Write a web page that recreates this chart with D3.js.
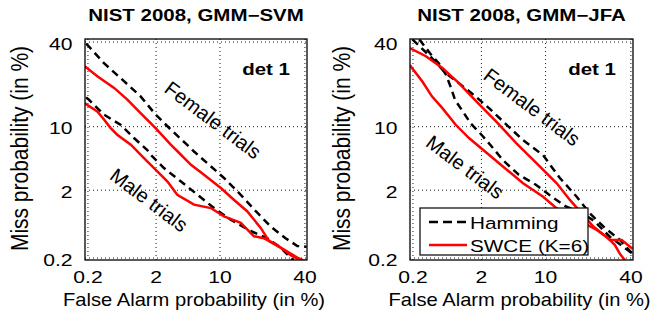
<!DOCTYPE html>
<html>
<head>
<meta charset="utf-8">
<script src="https://cdn.jsdelivr.net/npm/d3@7"></script>
<style>
body { margin: 0; background: #fff; }
svg text { font-family: "Liberation Sans", Arial, Helvetica, sans-serif; fill: #000; }
</style>
</head>
<body>
<svg id="chart" width="663" height="311"></svg>
<script>
// DET points, [false alarm %, miss %]
var svmFemaleHamming = [[0.19, 39], [0.21, 37.8], [0.37, 30.3], [0.66, 24.3], [1.27, 17.9], [2.0, 12.7], [3.07, 9.3], [4.7, 6.6], [5.6, 5.6], [7.6, 4.2], [11, 2.8], [15.3, 1.72], [20, 1.03], [25.4, 0.62], [31.5, 0.41], [36.7, 0.31], [41, 0.3]];
var svmFemaleSwce = [[0.18, 29], [0.29, 25], [0.53, 20.7], [0.83, 16.9], [1.27, 13.1], [2.0, 9.6], [3.07, 6.6], [3.7, 5.6], [5.2, 4.0], [7.1, 3.06], [10.3, 2.1], [13.4, 1.48], [17.2, 1.03], [21.7, 0.59], [24.8, 0.37], [30.8, 0.27], [36.7, 0.2], [39.5, 0.18]];
var svmMaleHamming = [[0.19, 17.5], [0.21, 16.9], [0.37, 12.7], [0.66, 10.3], [1.03, 7.7], [1.56, 5.8], [1.73, 5.17], [2.54, 3.67], [4.0, 2.55], [6.1, 1.72], [8.9, 1.14], [12.6, 0.78], [18.3, 0.53], [24.1, 0.41], [29.4, 0.29], [33.7, 0.2], [35, 0.18]];
var svmMaleSwce = [[0.18, 15.8], [0.29, 13.5], [0.37, 11.5], [0.47, 9.6], [0.59, 8.3], [0.93, 6.6], [1.41, 4.76], [2.1, 3.36], [2.79, 2.55], [3.66, 1.72], [5.6, 1.27], [8.3, 1.14], [11, 0.87], [15.3, 0.70], [19.4, 0.44], [22.9, 0.41], [28, 0.32], [33.7, 0.22], [38, 0.18]];

var jfaFemaleHamming = [[0.2, 41], [0.41, 32.5], [0.66, 26.2], [1.02, 22.4], [1.63, 18.3], [2.52, 14.4], [3.95, 10.5], [6.1, 7.35], [9.6, 5.1], [13.5, 2.8], [18.4, 1.62], [22.9, 0.96], [28.1, 0.62], [35.2, 0.385], [41, 0.23]];
var jfaMaleHamming = [[0.26, 41], [0.38, 34.7], [0.52, 30.3], [0.67, 25.5], [0.79, 20.7], [0.90, 16.8], [1.12, 13.9], [1.49, 10.5], [2.06, 8.2], [2.64, 6.5], [3.69, 4.5], [5.5, 3.06], [8.2, 2.31], [10.9, 1.72], [15.1, 1.2], [19.5, 1.0], [24.5, 0.75], [30.9, 0.43], [36.7, 0.30], [41, 0.23]];
var jfaFemaleSwce = [[0.18, 37], [0.33, 33.3], [0.59, 28.3], [1.02, 22.4], [1.77, 16.2], [3.12, 10.9], [5.2, 6.8], [8.35, 4.16], [12.7, 2.41], [16.3, 1.47], [24.2, 0.62], [30.9, 0.385], [36, 0.385], [41, 0.28]];
var jfaMaleSwce = [[0.18, 29.5], [0.29, 23], [0.41, 17.9], [0.59, 14.4], [0.92, 10.3], [1.4, 7.7], [2.14, 5.8], [3.71, 3.8], [6.1, 2.41], [9.6, 1.62], [12.7, 1.13], [25.5, 0.55], [29.5, 0.43], [33, 0.32], [35.2, 0.23], [37.5, 0.18]];

var tickValues = [0.2, 2, 10, 40];
var axisLimits = [0.182, 41.2];
var titles = ["NIST 2008, GMM\u2212SVM", "NIST 2008, GMM\u2212JFA"];
var seriesNames = ["Hamming", "SWCE (K=6)"];
var trialLabels = ["Female trials", "Male trials"];

var stretch = 1.28;
var plotTop = 39, plotBottom = 260;

// inverse normal CDF (Acklam)
function probit(p) {
    var a = [-3.969683028665376e+01, 2.209460984245205e+02, -2.759285104469687e+02, 1.383577518672690e+02, -3.066479806614716e+01, 2.506628277459239e+00],
        b = [-5.447609879822406e+01, 1.615858368580409e+02, -1.556989798598866e+02, 6.680131188771972e+01, -1.328068155288572e+01],
        c = [-7.784894002430293e-03, -3.223964580411365e-01, -2.400758277161838e+00, -2.549671010259964e+00, 4.374664141464968e+00, 2.938163982698783e+00],
        d = [7.784695709041462e-03, 3.224671290700398e-01, 2.445134137142996e+00, 3.754408661907416e+00];
    var q, r;
    if (p < 0.02425) {
        q = Math.sqrt(-2 * Math.log(p));
        return (((((c[0] * q + c[1]) * q + c[2]) * q + c[3]) * q + c[4]) * q + c[5]) /
            ((((d[0] * q + d[1]) * q + d[2]) * q + d[3]) * q + 1);
    }
    if (p > 1 - 0.02425) {
        return -probit(1 - p);
    }
    q = p - 0.5;
    r = q * q;
    return (((((a[0] * r + a[1]) * r + a[2]) * r + a[3]) * r + a[4]) * r + a[5]) * q /
        (((((b[0] * r + b[1]) * r + b[2]) * r + b[3]) * r + b[4]) * r + 1);
}
function pz(pct) { return probit(pct / 100); }

var svg = d3.select("#chart");

var panels = [
    {left: 85, right: 307, title: titles[0], ylab: 20,
        curves: [svmFemaleHamming, svmMaleHamming, svmFemaleSwce, svmMaleSwce],
        female: [213, 120], male: [149, 200], legend: false},
    {left: 410, right: 633, title: titles[1], ylab: 342,
        curves: [jfaFemaleHamming, jfaMaleHamming, jfaFemaleSwce, jfaMaleSwce],
        female: [532, 107], male: [465, 167], legend: true}
];

panels.forEach(function(p) {
    var x = d3.scaleLinear().domain(axisLimits.map(pz)).range([p.left, p.right]);
    var y = d3.scaleLinear().domain(axisLimits.map(pz)).range([plotBottom, plotTop]);
    var w = p.right - p.left, h = plotBottom - plotTop;
    var g = svg.append("g");

    // dotted grid
    g.append("g")
        .attr("transform", "translate(0," + plotBottom + ")")
        .call(d3.axisBottom(x).tickValues(tickValues.map(pz)).tickSize(-h).tickFormat(""))
        .call(function(s) { s.select(".domain").remove(); });
    g.append("g")
        .attr("transform", "translate(" + p.left + ",0)")
        .call(d3.axisLeft(y).tickValues(tickValues.map(pz)).tickSize(-w).tickFormat(""))
        .call(function(s) { s.select(".domain").remove(); });
    g.selectAll(".tick line")
        .attr("stroke", "#000")
        .attr("stroke-width", 0.9)
        .attr("stroke-dasharray", "1,3");

    // tick labels
    var xa = g.append("g")
        .attr("transform", "translate(0," + plotBottom + ")")
        .call(d3.axisBottom(x).tickValues(tickValues.map(pz)).tickSize(0).tickPadding(0)
            .tickFormat(function(d, i) { return tickValues[i]; }));
    xa.select(".domain").remove();
    xa.selectAll("text")
        .attr("y", 23).attr("dy", null)
        .attr("font-size", 16.5)
        .attr("transform", "scale(" + stretch + ",1)");

    var ya = g.append("g")
        .attr("transform", "translate(" + p.left + ",0)")
        .call(d3.axisLeft(y).tickValues(tickValues.map(pz)).tickSize(0).tickPadding(0)
            .tickFormat(function(d, i) { return tickValues[i]; }));
    ya.select(".domain").remove();
    ya.selectAll("text")
        .attr("x", -12.5 / stretch).attr("dy", null).attr("y", 7.5)
        .attr("font-size", 16.5)
        .attr("transform", "scale(" + stretch + ",1)");

    // curves
    var line = d3.line()
        .x(function(d) { return x(pz(d[0])); })
        .y(function(d) { return y(pz(d[1])); });
    g.append("clipPath").attr("id", "clip" + p.left)
        .append("rect").attr("x", p.left).attr("y", plotTop).attr("width", w).attr("height", h);
    var curves = g.append("g").attr("clip-path", "url(#clip" + p.left + ")");
    p.curves.forEach(function(c, i) {
        curves.append("path")
            .datum(c)
            .attr("d", line)
            .attr("fill", "none")
            .attr("stroke", i < 2 ? "#000" : "#ff0000")
            .attr("stroke-width", 2.5)
            .attr("stroke-dasharray", i < 2 ? "7.5,5" : null);
    });

    // frame
    g.append("rect")
        .attr("x", p.left).attr("y", plotTop).attr("width", w).attr("height", h)
        .attr("fill", "none").attr("stroke", "#000").attr("stroke-width", 1.3);

    g.append("text")
        .attr("transform", "translate(" + (p.left + p.right) / 2 + ",21) scale(" + stretch + ",1)")
        .attr("text-anchor", "middle")
        .attr("font-size", 16).attr("font-weight", "bold")
        .text(p.title);

    g.append("text")
        .attr("transform", "translate(" + (p.right - 17) + ",75) scale(" + stretch + ",1)")
        .attr("text-anchor", "end")
        .attr("font-size", 16).attr("font-weight", "bold")
        .text("det 1");

    g.append("text")
        .attr("transform", "translate(" + ((p.left + p.right) / 2 - 2) + ",306) scale(" + 1.12 + ",1)")
        .attr("text-anchor", "middle")
        .attr("font-size", 18)
        .text("False Alarm probability (in %)");

    g.append("text")
        .attr("transform", "translate(" + p.ylab + "," + ((plotTop + plotBottom) / 2 - 1) + ") scale(1.15,1) rotate(-90)")
        .attr("text-anchor", "middle")
        .attr("dy", "0.35em")
        .attr("font-size", 21)
        .text("Miss probability (in %)");

    [p.female, p.male].forEach(function(pos, i) {
        g.append("text")
            .attr("transform", "translate(" + pos[0] + "," + pos[1] + ") rotate(37)")
            .attr("text-anchor", "middle")
            .attr("dy", "0.35em")
            .attr("font-size", 20)
            .text(trialLabels[i]);
    });

    if (p.legend) {
        var lg = g.append("g");
        lg.append("rect")
            .attr("x", 420).attr("y", 208).attr("width", 168).attr("height", 47)
            .attr("fill", "#fff").attr("stroke", "#000").attr("stroke-width", 1.2);
        seriesNames.forEach(function(name, i) {
            var ly = 222 + i * 23;
            lg.append("line")
                .attr("x1", 429).attr("x2", 467).attr("y1", ly).attr("y2", ly)
                .attr("stroke", i == 0 ? "#000" : "#ff0000")
                .attr("stroke-width", 2.5)
                .attr("stroke-dasharray", i == 0 ? "9,5" : null);
            lg.append("text")
                .attr("transform", "translate(470," + (ly + 6.5) + ") scale(1.22,1)")
                .attr("font-size", 17)
                .text(name);
        });
    }
});
</script>
</body>
</html>
